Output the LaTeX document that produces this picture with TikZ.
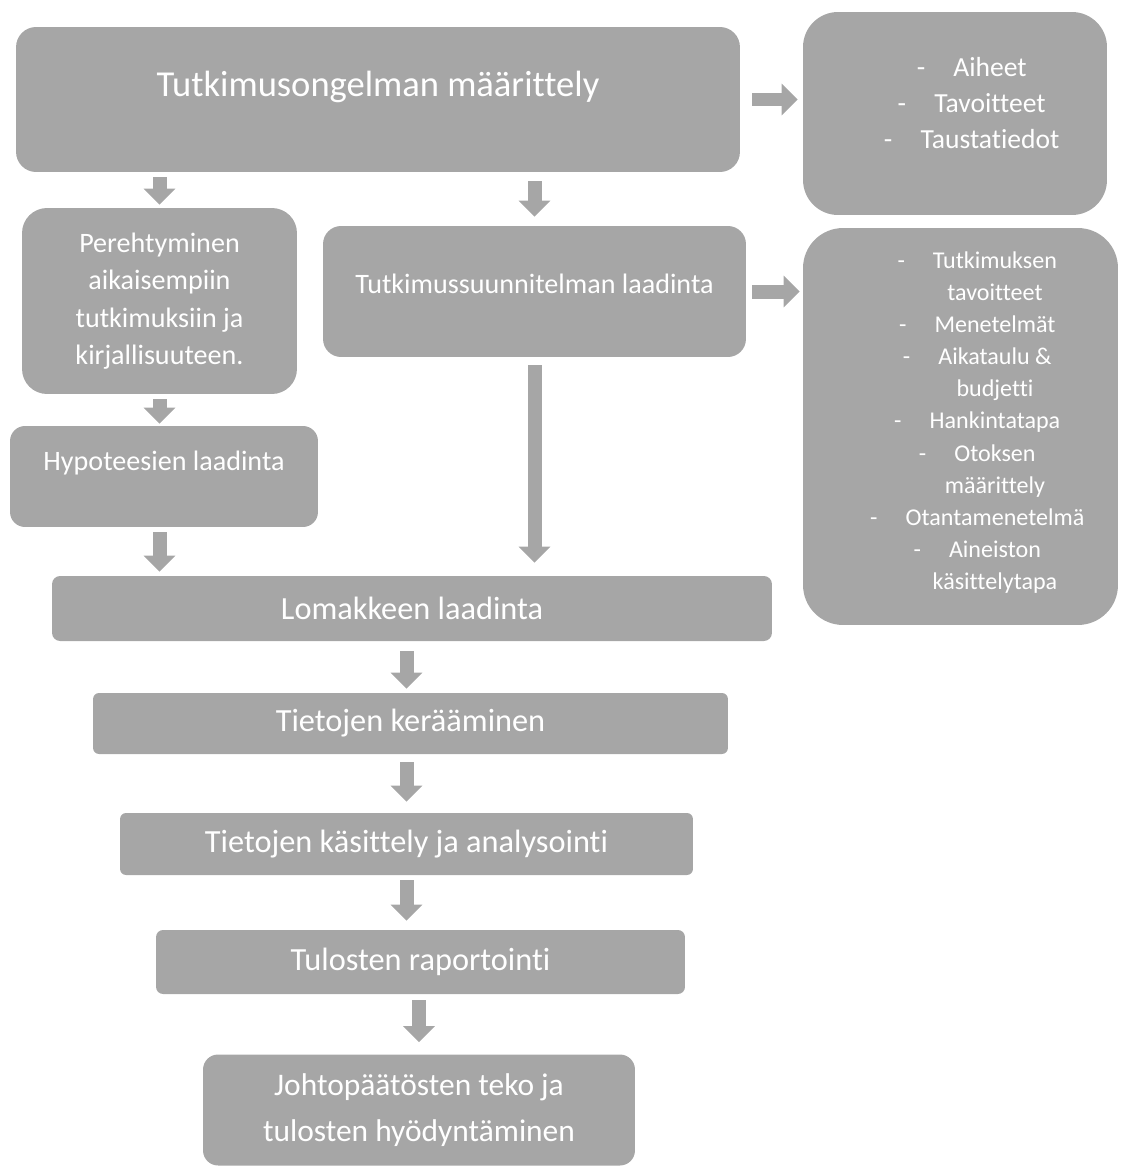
\documentclass[tikz,border=0pt]{standalone}
\usepackage{fontspec}
\setmainfont{Carlito}[Ligatures={NoCommon}]
\usetikzlibrary{arrows.meta}
\definecolor{boxgray}{RGB}{166,166,166}
\newcommand{\itemline}[1]{\llap{-\hspace{16pt}}#1}

\begin{document}
\begin{tikzpicture}[
x=0.02cm, y=-0.02cm,
box/.style={fill=boxgray, text=white, align=center, inner sep=0pt},
lst/.style={text=white, align=center, inner sep=0pt},
flow/.style={draw=boxgray, line width=0.28cm, -{Triangle[width=0.62cm,length=0.32cm]}}]
\useasboundingbox (0,0) rectangle (1120,1166);

\node[box, rounded corners=0.4cm, minimum width=14.48cm, minimum height=2.9cm,
	font=\fontsize{20.8}{24}\selectfont, text depth=18pt] (problem) at (378,99.5) {Tutkimusongelman määrittely};
\node[box, rounded corners=0.7cm, minimum width=6.08cm, minimum height=4.06cm,
	label={[lst, font=\fontsize{15.7}{20.5}\selectfont, xshift=0.7cm, yshift=0.21cm]center:{\itemline{Aiheet}\\ \itemline{Tavoitteet}\\ \itemline{Taustatiedot}}}] (aims) at (955,113.5) {};
\node[box, rounded corners=0.5cm, minimum width=5.5cm, minimum height=3.72cm,
	font=\fontsize{16}{21.3}\selectfont] (review) at (159.5,301) {Perehtyminen\\aikaisempiin\\tutkimuksiin ja\\kirjallisuuteen.};
\node[box, rounded corners=0.36cm, minimum width=8.46cm, minimum height=2.62cm,
	font=\fontsize{16}{19}\selectfont, text depth=8.6pt] (plan) at (534.5,291.5) {Tutkimussuunnitelman laadinta};
\node[box, rounded corners=0.8cm, minimum width=6.3cm, minimum height=7.94cm,
	label={[lst, font=\fontsize{13.7}{18.3}\selectfont, xshift=0.69cm, yshift=0.08cm]center:{\itemline{Tutkimuksen}\\ tavoitteet\\ \itemline{Menetelmät}\\ \itemline{Aikataulu \&}\\ budjetti\\ \itemline{Hankintatapa}\\ \itemline{Otoksen}\\ määrittely\\ \itemline{Otantamenetelmä}\\ \itemline{Aineiston}\\ käsittelytapa}}] (plancont) at (960.5,426.5) {};
\node[box, rounded corners=0.3cm, minimum width=6.16cm, minimum height=2.02cm,
	font=\fontsize{16}{19}\selectfont, text depth=17.4pt] (hyp) at (164,476.5) {Hypoteesien laadinta};
\node[box, rounded corners=0.16cm, minimum width=14.4cm, minimum height=1.3cm,
	font=\fontsize{18.4}{22}\selectfont] (form) at (412,608.5) {Lomakkeen laadinta};
\node[box, rounded corners=0.12cm, minimum width=12.7cm, minimum height=1.22cm,
	font=\fontsize{18.4}{22}\selectfont] (collect) at (410.5,723.5) {Tietojen kerääminen};
\node[box, rounded corners=0.12cm, minimum width=11.46cm, minimum height=1.24cm,
	font=\fontsize{18.4}{22}\selectfont] (analyse) at (406.5,844) {Tietojen käsittely ja analysointi};
\node[box, rounded corners=0.14cm, minimum width=10.58cm, minimum height=1.28cm,
	font=\fontsize{18.4}{22}\selectfont] (report) at (420.5,962) {Tulosten raportointi};
\node[box, rounded corners=0.3cm, minimum width=8.64cm, minimum height=2.22cm,
	font=\fontsize{17.9}{26}\selectfont] (concl) at (419,1110) {Johtopäätösten teko ja\\tulosten hyödyntäminen};

\draw[flow, shorten <=0.24cm, shorten >=0.1cm] (problem.east) -- (problem.east -| aims.west);
\draw[flow, shorten <=0.1cm, shorten >=0.06cm] (problem.south -| review) -- (review.north);
\draw[flow, shorten <=0.18cm, shorten >=0.18cm] (problem.south -| plan) -- (plan.north);
\draw[flow, shorten <=0.12cm, shorten >=0.06cm] (plan.east) -- (plan.east -| plancont.west);
\draw[flow, shorten <=0.1cm, shorten >=0.04cm] (review.south) -- (review.south |- hyp.north);
\draw[flow, shorten <=0.1cm, shorten >=0.08cm] (review.south |- hyp.south) -- (review.south |- form.north);
\draw[flow, shorten <=0.16cm, shorten >=0.26cm] (plan.south) -- (plan.south |- form.north);
\draw[flow, shorten <=0.2cm, shorten >=0.08cm] (form.south -| analyse) -- (analyse |- collect.north);
\draw[flow, shorten <=0.16cm, shorten >=0.22cm] (collect.south -| analyse) -- (analyse.north);
\draw[flow, shorten <=0.1cm, shorten >=0.18cm] (analyse.south) -- (analyse.south |- report.north);
\draw[flow, shorten <=0.12cm, shorten >=0.24cm] (report.south -| concl) -- (concl.north);
%\draw[flow] (hyp.south) -- (form.north);
\end{tikzpicture}
\end{document}
